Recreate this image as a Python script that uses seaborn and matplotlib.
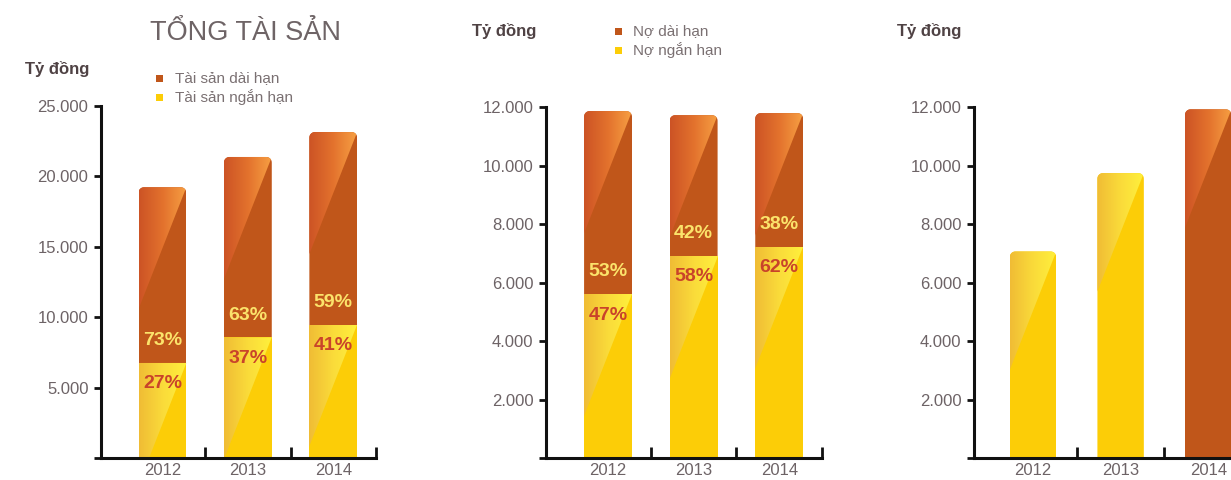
import numpy as np
import pandas as pd
import matplotlib
matplotlib.use("Agg")
import matplotlib.pyplot as plt
import seaborn as sns
from matplotlib.path import Path
from matplotlib.patches import Rectangle
from matplotlib.transforms import IdentityTransform
from matplotlib.colors import LinearSegmentedColormap

# ---------------- data ----------------
years = ["2012", "2013", "2014"]

# Panel 1: total assets (stacked)
assets_total = [19230, 21380, 23150]
assets_short = [6750, 8570, 9470]
assets_long_pct = ["73%", "63%", "59%"]
assets_short_pct = ["27%", "37%", "41%"]

# Panel 2: liabilities (stacked)
debt_total = [11860, 11720, 11790]
debt_short = [5600, 6920, 7210]
debt_long_pct = ["53%", "42%", "38%"]
debt_short_pct = ["47%", "58%", "62%"]

# Panel 3: single bars
p3_values = [7060, 9740, 11920]
p3_kind = ["short", "short", "long"]

title1 = "TỔNG TÀI SẢN"
unit_label = "Tỷ đồng"
legend1 = ["Tài sản dài hạn", "Tài sản ngắn hạn"]
legend2 = ["Nợ dài hạn", "Nợ ngắn hạn"]
ticks1 = [0, 5000, 10000, 15000, 20000, 25000]
tick_labels1 = ["", "5.000", "10.000", "15.000", "20.000", "25.000"]
ticks2 = [0, 2000, 4000, 6000, 8000, 10000, 12000]
tick_labels2 = ["", "2.000", "4.000", "6.000", "8.000", "10.000", "12.000"]

# ---------------- style ----------------
ORANGE = "#C0561A"
YELLOW = "#FCCD07"
TICK_C = "#6d6366"
UNIT_C = "#4f4244"
LEG_C = "#7a7072"
AX_C = "#111111"
PCT_UP = "#FBE36B"
PCT_LOW = "#C9432A"

cm_orange = LinearSegmentedColormap.from_list("ohl", ["#CC5325", "#E3722D", "#F7A043"])
cm_yellow = LinearSegmentedColormap.from_list("yhl", ["#F0BC35", "#FADB3A", "#FFF03C"])

sns.set_style("white")
plt.rcParams["font.family"] = ["Liberation Sans", "DejaVu Sans"]

W, H = 1231, 480
fig = plt.figure(figsize=(W / 100, H / 100), dpi=100)
fig.patch.set_facecolor("white")


def fx(x):
    return x / W


def fy(y):
    return 1 - y / H


def add_ax(x0, x1, ytop, ybot):
    return fig.add_axes([x0 / W, 1 - ybot / H, (x1 - x0) / W, (ybot - ytop) / H])


def rounded_rect(x0, x1, yb, yt, r):
    pts = [(x0, yb), (x1, yb)]
    if r > 0:
        pts.append((x1, yt - r))
        for a in np.linspace(0, np.pi / 2, 10):
            pts.append((x1 - r + r * np.cos(a), yt - r + r * np.sin(a)))
        for a in np.linspace(np.pi / 2, np.pi, 10):
            pts.append((x0 + r + r * np.cos(a), yt - r + r * np.sin(a)))
    else:
        pts += [(x1, yt), (x0, yt)]
    return np.array(pts, dtype=float)


def clip_halfplane(poly, A, B, keep):
    def side(P):
        return (B[0] - A[0]) * (P[1] - A[1]) - (B[1] - A[1]) * (P[0] - A[0])
    sk = np.sign(side(keep))
    out = []
    n = len(poly)
    for i in range(n):
        P, Q = poly[i], poly[(i + 1) % n]
        sp, sq = side(P) * sk, side(Q) * sk
        if sp >= 0:
            out.append(P)
        if sp * sq < 0:
            t = sp / (sp - sq)
            out.append(P + t * (Q - P))
    return np.array(out)


def decorate(ax, patch, seg_bottom, rounded, cmap):
    """Round the top of a bar and add a glossy diagonal highlight."""
    x = patch.get_x()
    w = patch.get_width()
    y0 = patch.get_y()
    top = y0 + patch.get_height()
    T = ax.transData
    (dx0, dyb), (dx1, dyt) = T.transform([(x, seg_bottom), (x + w, top)])
    _, dy0 = T.transform((x, y0))
    r = 5.5 if rounded else 0
    if rounded:
        clip = rounded_rect(dx0, dx1, dy0, dyt, r)
        patch.set_clip_path(Path(np.vstack([clip, clip[:1]]), closed=True), IdentityTransform())
    seg = rounded_rect(dx0, dx1, dyb, dyt, r)
    hgt = 2.55 * (dx1 - dx0)
    A = np.array([dx1, dyt])
    B = np.array([dx0, dyt - hgt])
    poly = clip_halfplane(seg, A, B, np.array([dx0 - 1, dyt + 1]))
    if len(poly) < 3:
        return
    grad = np.linspace(0, 1, 256).reshape(1, -1)
    im = ax.imshow(grad, extent=(x, x + w, seg_bottom, top), aspect="auto",
                   cmap=cmap, zorder=3, interpolation="bilinear")
    im.set_clip_path(Path(np.vstack([poly, poly[:1]]), closed=True), IdentityTransform())


def style_axes(ax, xlim, ylim, ticks, labels):
    ax.set_xlim(*xlim)
    ax.set_ylim(*ylim)
    ax.set_xlabel("")
    ax.set_ylabel("")
    for s in ["top", "right"]:
        ax.spines[s].set_visible(False)
    for s in ["left", "bottom"]:
        ax.spines[s].set_color(AX_C)
        ax.spines[s].set_linewidth(2.2)
        ax.spines[s].set_zorder(6)
    ax.set_yticks(ticks)
    ax.set_yticklabels(labels)
    ax.tick_params(axis="y", length=5, width=2, color=AX_C, labelsize=12,
                   labelcolor=TICK_C, pad=4, left=True)
    ax.set_xticks([0, 1, 2])
    ax.set_xticklabels(years)
    ax.set_xticks([0.5, 1.5, 2.5], minor=True)
    ax.tick_params(axis="x", which="major", length=0, labelsize=12,
                   labelcolor=TICK_C, pad=3.5)
    ax.tick_params(axis="x", which="minor", direction="in", length=8,
                   width=2, color=AX_C, bottom=True)
    ax.grid(False)
    ax.set_facecolor("none")


def stacked_panel(ax, total, short, up_pct, low_pct, xlim, ylim, ticks, labels, width):
    df = pd.DataFrame({"year": years, "total": total, "short": short})
    sns.barplot(data=df, x="year", y="total", color=ORANGE, saturation=1,
                width=width, ax=ax, edgecolor="none", linewidth=0)
    n0 = len(ax.patches)
    sns.barplot(data=df, x="year", y="short", color=YELLOW, saturation=1,
                width=width, ax=ax, edgecolor="none", linewidth=0)
    p_tot = ax.patches[:n0]
    p_short = ax.patches[n0:]
    style_axes(ax, xlim, ylim, ticks, labels)
    for i in range(len(years)):
        decorate(ax, p_tot[i], short[i], True, cm_orange)
        decorate(ax, p_short[i], 0, False, cm_yellow)
        xc = p_tot[i].get_x() + p_tot[i].get_width() / 2
        ax.annotate(up_pct[i], (xc, short[i]), xytext=(0, 16), textcoords="offset points",
                    ha="center", va="center", fontsize=14, fontweight="bold",
                    color=PCT_UP, zorder=7)
        ax.annotate(low_pct[i], (xc, short[i]), xytext=(0, -15), textcoords="offset points",
                    ha="center", va="center", fontsize=14, fontweight="bold",
                    color=PCT_LOW, zorder=7)
    ax.set_xlim(*xlim)
    ax.set_ylim(*ylim)


# ---------------- Panel 1 ----------------
ax1 = add_ax(101, 376, 106, 458)
stacked_panel(ax1, assets_total, assets_short, assets_long_pct, assets_short_pct,
              (-0.719, 2.5), (0, 25000), ticks1, tick_labels1, 0.56)

# ---------------- Panel 2 ----------------
ax2 = add_ax(546, 822, 107, 458)
stacked_panel(ax2, debt_total, debt_short, debt_long_pct, debt_short_pct,
              (-0.725, 2.5), (0, 12000), ticks2, tick_labels2, 0.56)

# ---------------- Panel 3 ----------------
ax3 = add_ax(974, 1252, 107, 458)
df3 = pd.DataFrame({"year": years, "value": p3_values, "kind": p3_kind})
sns.barplot(data=df3, x="year", y="value", hue="kind",
            palette={"short": YELLOW, "long": ORANGE}, dodge=False, legend=False,
            saturation=1, width=0.53, ax=ax3, edgecolor="none", linewidth=0)
style_axes(ax3, (-0.674, 2.5), (0, 12000), ticks2, tick_labels2)
for p in list(ax3.patches):
    if p.get_height() <= 0:
        continue
    fc = p.get_facecolor()
    is_orange = fc[0] < 0.9 and fc[1] < 0.5
    decorate(ax3, p, 0, True, cm_orange if is_orange else cm_yellow)
ax3.set_xlim(-0.674, 2.5)
ax3.set_ylim(0, 12000)

# ---------------- texts ----------------
fig.text(fx(246), fy(33), title1, ha="center", va="center", fontsize=19.5, color="#6e6466")
for (ux, uy) in [(25, 69), (472, 31), (897, 31)]:
    fig.text(fx(ux), fy(uy), unit_label, ha="left", va="center", fontsize=12,
             fontweight="bold", color=UNIT_C)


def legend(sq_x, y1, y2, tx, labels):
    s = 7
    for (yy, col, lab) in [(y1, ORANGE, labels[0]), (y2, YELLOW, labels[1])]:
        fig.add_artist(Rectangle((fx(sq_x - s / 2), fy(yy + s / 2)), s / W, s / H,
                                 transform=fig.transFigure, facecolor=col, edgecolor="none"))
        fig.text(fx(tx), fy(yy), lab, ha="left", va="center", fontsize=11, color=LEG_C)


legend(159, 78, 97, 175, legend1)
legend(618, 31, 50, 633, legend2)

fig.savefig("out.png", dpi=100)
